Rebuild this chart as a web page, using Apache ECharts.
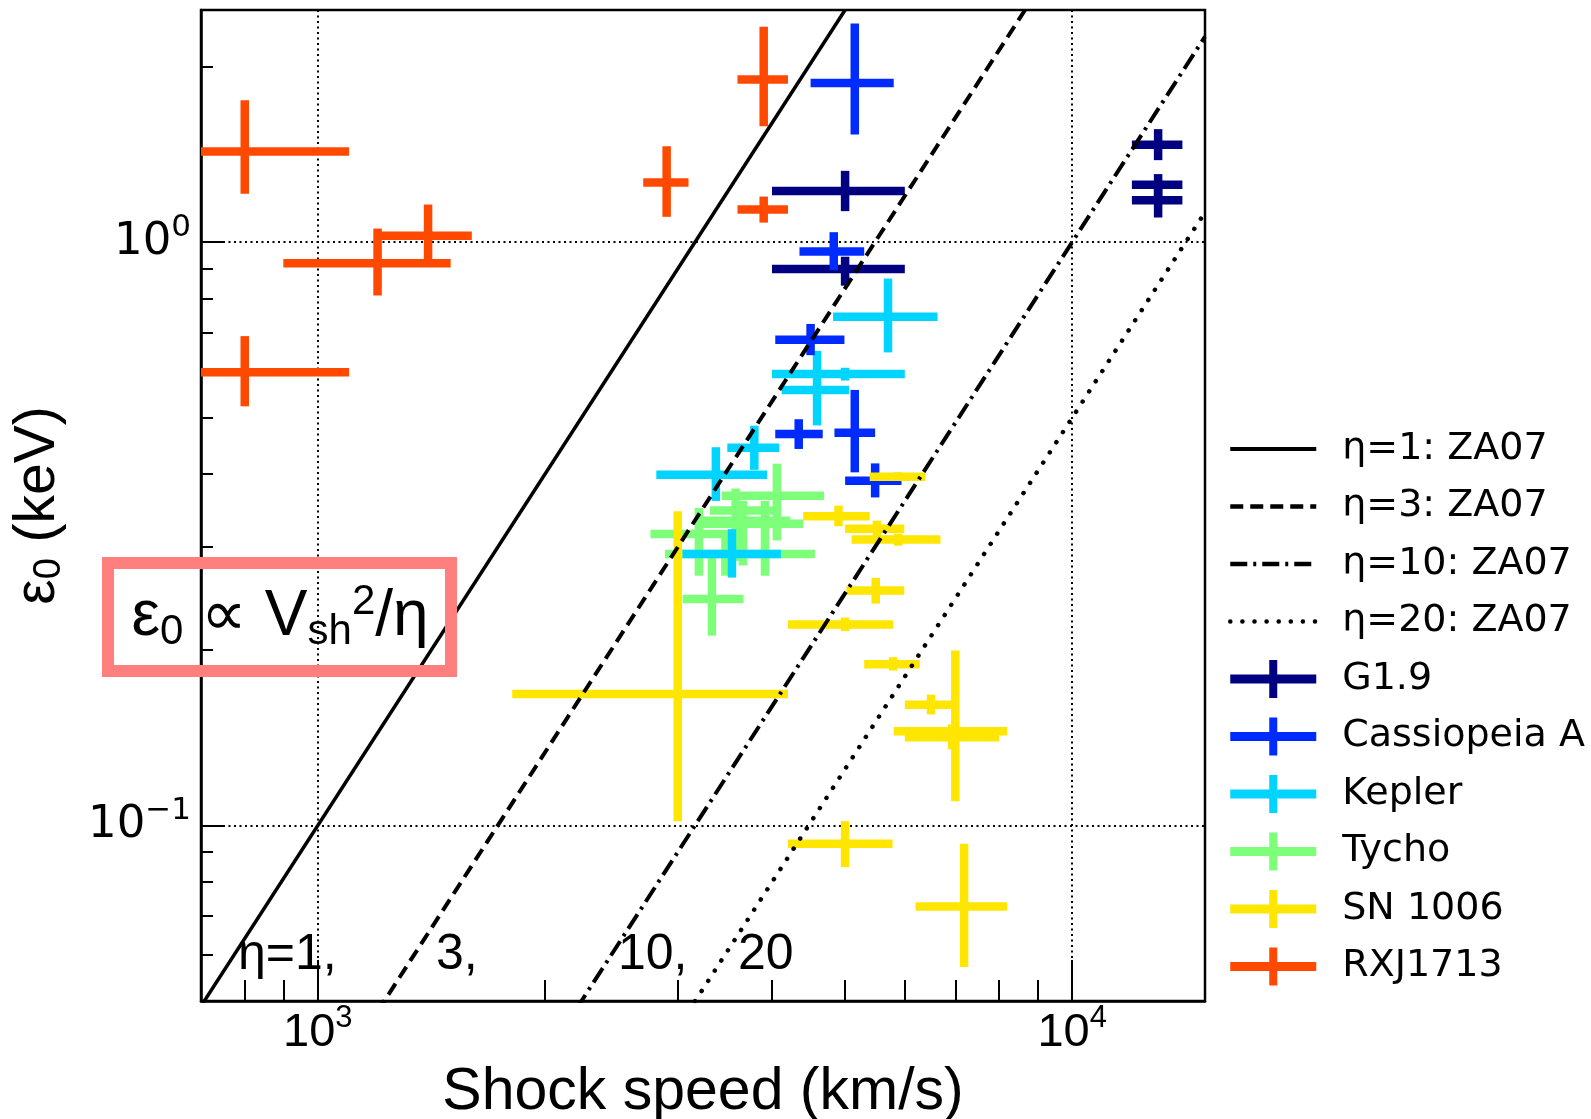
<!doctype html>
<html>
<head>
<meta charset="UTF-8">
<title>Shock speed vs cutoff energy</title>
<style>
html,body{margin:0;padding:0;background:#fff;}
#chart{width:1591px;height:1119px;}
</style>
</head>
<body>
<div id="chart"></div>
<script src="https://cdn.jsdelivr.net/npm/echarts@6/dist/echarts.min.js"></script>
<script>
// each row: [Vsh, eps0, Vsh_lo, Vsh_hi, eps0_lo, eps0_hi]
var g19 = [
  [5000, 1.224, 4000, 6000, 1.13, 1.325],
  [5000, 0.899, 4000, 6000, 0.842, 0.944],
  [13000, 1.468, 12000, 14000, 1.382, 1.562],
  [13000, 1.254, 12000, 14000, 1.20, 1.308],
  [13000, 1.18, 12000, 14000, 1.102, 1.234]
];
var casA = [
  [5150, 1.875, 4500, 5800, 1.53, 2.37],
  [4830, 0.964, 4350, 5300, 0.895, 1.04],
  [4500, 0.68, 4040, 4990, 0.64, 0.724],
  [4340, 0.469, 4040, 4670, 0.442, 0.497],
  [5150, 0.471, 4840, 5480, 0.403, 0.558],
  [5480, 0.39, 5000, 5940, 0.365, 0.4175]
];
var kepler = [
  [5700, 0.745, 4820, 6630, 0.647, 0.866],
  [5000, 0.594, 4000, 6000, 0.579, 0.609],
  [4590, 0.558, 4120, 5060, 0.485, 0.651],
  [3790, 0.444, 3490, 4090, 0.407, 0.4845],
  [3370, 0.399, 2810, 3940, 0.36, 0.445],
  [3540, 0.292, 3045, 4110, 0.266, 0.322]
];
var tycho = [
  [4060, 0.3675, 3430, 4690, 0.308, 0.417],
  [3580, 0.3465, 3310, 4100, 0.284, 0.378],
  [3915, 0.333, 3240, 4230, 0.268, 0.36],
  [3660, 0.329, 3190, 4400, 0.279, 0.36],
  [3200, 0.316, 2760, 3680, 0.268, 0.35],
  [3470, 0.292, 2885, 4560, 0.268, 0.32],
  [3330, 0.2445, 3045, 3665, 0.2115, 0.29]
];
var sn1006 = [
  [3000, 0.168, 1810, 4200, 0.1017, 0.3455],
  [5000, 0.093, 4200, 5780, 0.0848, 0.1017],
  [7190, 0.0726, 6200, 8200, 0.0572, 0.093],
  [7000, 0.145, 5800, 8200, 0.11, 0.1995],
  [6930, 0.1416, 6000, 8000, 0.135, 0.149],
  [6500, 0.161, 6000, 7000, 0.155, 0.1676],
  [5790, 0.189, 5300, 6280, 0.1843, 0.1943],
  [5000, 0.221, 4200, 5790, 0.2153, 0.2272],
  [5490, 0.2527, 5020, 5990, 0.24, 0.2657],
  [4900, 0.339, 4400, 5390, 0.3257, 0.3534],
  [5510, 0.3224, 5000, 5990, 0.3113, 0.333],
  [5880, 0.309, 5100, 6690, 0.3017, 0.3164],
  [5880, 0.396, 5390, 6390, 0.39, 0.403]
];
var rxj1713 = [
  [800, 1.43, 600, 1100, 1.21, 1.75],
  [1200, 0.92, 900, 1500, 0.81, 1.055],
  [1400, 1.025, 1200, 1600, 0.93, 1.16],
  [800, 0.598, 600, 1100, 0.523, 0.69],
  [3900, 1.9, 3600, 4200, 1.58, 2.34],
  [2900, 1.265, 2700, 3100, 1.105, 1.46],
  [3900, 1.137, 3600, 4200, 1.08, 1.197]
];

// ZA07 model lines (end points)
var za07eta1 = [[700, 0.049], [5000, 2.5]];
var za07eta3 = [[1200, 0.048], [8660, 2.5]];
var za07eta10 = [[2200, 0.0484], [15000, 2.25]];
var za07eta20 = [[3100, 0.048], [15000, 1.125]];

var xMajorTicks = [1000, 10000];
var xMinorTicks = [800, 900, 2000, 3000, 4000, 5000, 6000, 7000, 8000, 9000];
var yMajorTicks = [0.1, 1];
var yMinorTicks = [0.06, 0.07, 0.08, 0.09, 0.2, 0.3, 0.4, 0.5, 0.6, 0.7, 0.8, 0.9, 2];

var myChart = echarts.init(document.getElementById('chart'));

function errRender(params, api) {
  var x = api.value(0), y = api.value(1);
  var c = api.coord([x, y]);
  var l = api.coord([api.value(2), y]);
  var r = api.coord([api.value(3), y]);
  var b = api.coord([x, api.value(4)]);
  var t = api.coord([x, api.value(5)]);
  var st = {stroke: api.visual('color'), lineWidth: 8.5};
  return {
    type: 'group',
    children: [
      {type: 'line', shape: {x1: l[0], y1: c[1], x2: r[0], y2: c[1]}, style: st},
      {type: 'line', shape: {x1: c[0], y1: t[1], x2: c[0], y2: b[1]}, style: st}
    ]
  };
}

function errSeries(name, color, data) {
  return {
    name: name, type: 'custom', renderItem: errRender, clip: true, z: 2,
    itemStyle: {color: color}, data: data
  };
}

function lineSeries(name, data, type, width, cap) {
  return {
    name: name, type: 'line', data: data, symbol: 'none', z: 5, clip: true, silent: true,
    itemStyle: {color: 'rgba(0,0,0,0)'},
    lineStyle: {color: '#000', width: width, type: type, cap: cap || 'butt'}
  };
}

function supFmt(v) {
  var e = Math.round(Math.log10(v));
  return '{b|10}{s|' + (e < 0 ? '\u2212' + (-e) : e) + '}';
}

var crossIcon = 'path://M0,14.5H39V0H47V14.5H86V23.5H47V38H39V23.5H0Z';
var tickStyle = {color: '#000', width: 2};

option = {
  backgroundColor: '#fff',
  animation: false,
  grid: {
    left: 201, right: 386, top: 10, bottom: 118, outerBoundsMode: 'none', containLabel: false,
    show: true, borderColor: '#000', borderWidth: 2.5
  },
  xAxis: [{
    type: 'log', logBase: 10, min: 700, max: 15000,
    name: 'Shock speed (km/s)', nameLocation: 'middle', nameGap: 62,
    nameTextStyle: {fontFamily: 'Liberation Sans', fontSize: 59, color: '#000'},
    axisLine: {lineStyle: {color: '#000', width: 2.5}},
    axisTick: {inside: true, length: 41, customValues: xMajorTicks, lineStyle: tickStyle},
    axisLabel: {
      customValues: xMajorTicks, margin: 2, formatter: supFmt,
      rich: {
        b: {fontFamily: 'Liberation Sans', fontSize: 47, lineHeight: 60, color: '#000'},
        s: {fontFamily: 'Liberation Sans', fontSize: 31, lineHeight: 34, verticalAlign: 'top', color: '#000'}
      }
    },
    splitLine: {show: true, lineStyle: {color: '#000', width: 2, type: [2, 3.5]}}
  }, {
    type: 'log', logBase: 10, min: 700, max: 15000, gridIndex: 0, position: 'bottom', offset: 0,
    axisLine: {show: false}, axisLabel: {show: false}, splitLine: {show: false},
    axisTick: {inside: true, length: 21, customValues: xMinorTicks, lineStyle: tickStyle}
  }],
  yAxis: [{
    type: 'log', logBase: 10, min: 0.05, max: 2.5,
    name: '{a|\u03b5}{u|0}{a| (keV)}', nameLocation: 'middle', nameGap: 132,
    nameTextStyle: {
      rich: {
        a: {fontFamily: 'Liberation Sans', fontSize: 57, lineHeight: 62, color: '#000'},
        u: {fontFamily: 'Liberation Sans', fontSize: 38, lineHeight: 42, verticalAlign: 'bottom', color: '#000'}
      }
    },
    axisLine: {lineStyle: {color: '#000', width: 2.5}},
    axisTick: {inside: true, length: 23, customValues: yMajorTicks, lineStyle: tickStyle},
    axisLabel: {
      customValues: yMajorTicks, margin: 10, formatter: supFmt,
      rich: {
        b: {fontFamily: 'DejaVu Sans', fontSize: 45, lineHeight: 60, color: '#000'},
        s: {fontFamily: 'DejaVu Sans', fontSize: 31, lineHeight: 34, verticalAlign: 'top', color: '#000'}
      }
    },
    splitLine: {show: true, lineStyle: {color: '#000', width: 2, type: [2, 3.5]}}
  }, {
    type: 'log', logBase: 10, min: 0.05, max: 2.5, gridIndex: 0, position: 'left', offset: 0,
    axisLine: {show: false}, axisLabel: {show: false}, splitLine: {show: false},
    axisTick: {inside: true, length: 12, customValues: yMinorTicks, lineStyle: tickStyle}
  }],
  legend: {
    orient: 'vertical', left: 1228, top: 430, padding: 0,
    itemWidth: 86, itemHeight: 38, itemGap: 19.5, selectedMode: false,
    textStyle: {fontFamily: 'DejaVu Sans', fontSize: 38, color: '#000', lineHeight: 38, padding: [0, 0, 0, 21]},
    data: [
      {name: '\u03b7=1: ZA07', lineStyle: {width: 4}},
      {name: '\u03b7=3: ZA07', lineStyle: {width: 4.5}},
      {name: '\u03b7=10: ZA07', lineStyle: {width: 4.5}},
      {name: '\u03b7=20: ZA07', lineStyle: {width: 4.5}},
      {name: 'G1.9', icon: crossIcon},
      {name: 'Cassiopeia A', icon: crossIcon},
      {name: 'Kepler', icon: crossIcon},
      {name: 'Tycho', icon: crossIcon},
      {name: 'SN 1006', icon: crossIcon},
      {name: 'RXJ1713', icon: crossIcon}
    ]
  },
  graphic: [
    {type: 'text', z: 10, style: {x: 238, y: 955, text: '\u03b7=1,', font: '50px "Liberation Sans"', fill: '#000', verticalAlign: 'middle'}},
    {type: 'text', z: 10, style: {x: 436, y: 955, text: '3,', font: '50px "Liberation Sans"', fill: '#000', verticalAlign: 'middle'}},
    {type: 'text', z: 10, style: {x: 618, y: 955, text: '10,', font: '50px "Liberation Sans"', fill: '#000', verticalAlign: 'middle'}},
    {type: 'text', z: 10, style: {x: 738, y: 955, text: '20', font: '50px "Liberation Sans"', fill: '#000', verticalAlign: 'middle'}},
    {type: 'rect', z: 10, shape: {x: 108, y: 563, width: 343, height: 108},
      style: {fill: 'none', stroke: '#ff7f7f', lineWidth: 12}},
    {type: 'text', z: 11, style: {
      x: 280, y: 617, align: 'center', verticalAlign: 'middle',
      text: '{a|\u03b5}{s|0}{a| \u221d V}{s|sh}{p|2}{a|/\u03b7}',
      rich: {
        a: {fontFamily: 'Liberation Sans', fontSize: 64, lineHeight: 72, fill: '#000'},
        s: {fontFamily: 'Liberation Sans', fontSize: 42, lineHeight: 46, verticalAlign: 'bottom', fill: '#000'},
        p: {fontFamily: 'Liberation Sans', fontSize: 42, lineHeight: 46, verticalAlign: 'top', fill: '#000'}
      }
    }}
  ],
  series: [
    errSeries('G1.9', '#000080', g19),
    errSeries('Tycho', '#7dff7a', tycho),
    errSeries('Kepler', '#00d4ff', kepler),
    errSeries('Cassiopeia A', '#002bff', casA),
    errSeries('SN 1006', '#ffe600', sn1006),
    errSeries('RXJ1713', '#ff4900', rxj1713),
    lineSeries('\u03b7=1: ZA07', za07eta1, 'solid', 3.5),
    lineSeries('\u03b7=3: ZA07', za07eta3, [13, 7], 4),
    lineSeries('\u03b7=10: ZA07', za07eta10, [17, 6, 3, 6], 4),
    lineSeries('\u03b7=20: ZA07', za07eta20, [0.1, 12], 4.5, 'round')
  ]
};
myChart.setOption(option);
</script>
</body>
</html>
